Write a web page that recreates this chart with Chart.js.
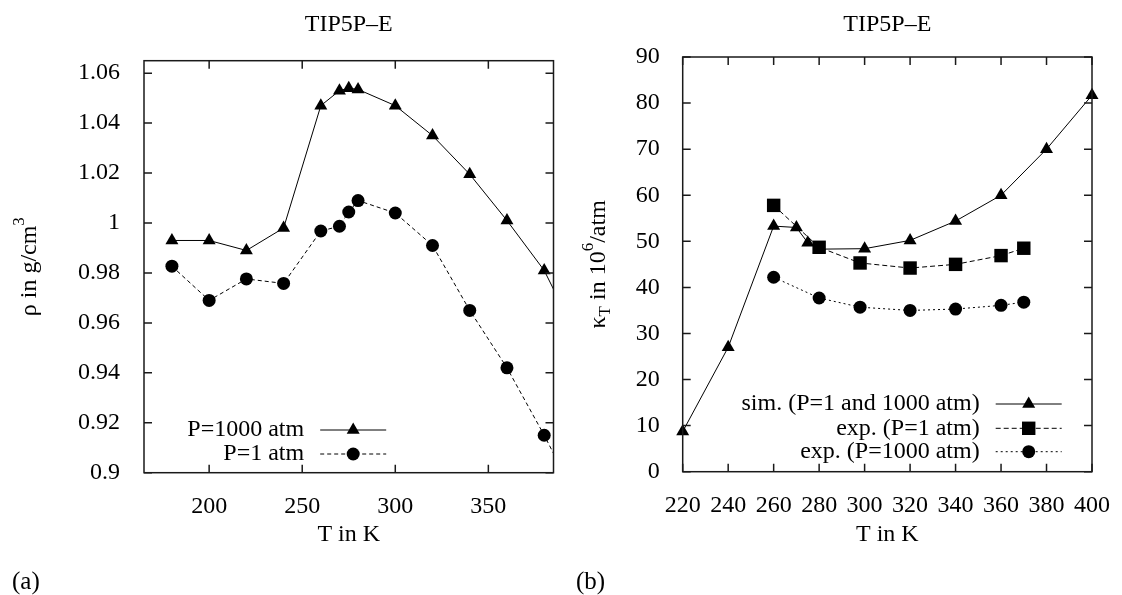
<!DOCTYPE html>
<html>
<head>
<meta charset="utf-8">
<script src="https://cdn.jsdelivr.net/npm/chart.js@4.4.0/dist/chart.umd.min.js"></script>
<style>
  html, body { margin: 0; padding: 0; background: #fff; }
  #wrap { position: relative; width: 1122px; height: 595px; overflow: hidden; }
  canvas { position: absolute; top: 0; }
  #c1 { left: 0; }
  #c2 { left: 561px; }
  .tag { position: absolute; top: 567px; font: 25px "Liberation Serif", serif; line-height: 28px; color: #000; }
</style>
</head>
<body>
<div id="wrap">
  <canvas id="c1" width="561" height="595"></canvas>
  <canvas id="c2" width="561" height="595"></canvas>
  <div class="tag" style="left:12px">(a)</div>
  <div class="tag" style="left:576px">(b)</div>
</div>
<script>
// (a) density
const rhoTemps = [180, 200, 220, 240, 260, 270, 275, 280, 300, 320, 340, 360, 380, 400];
const rhoP1000 = [0.993, 0.993, 0.989, 0.998, 1.047, 1.053, 1.054, 1.0535, 1.047, 1.035, 1.0195, 1.001, 0.981, 0.951];
const rhoP1 = [0.9827, 0.969, 0.9776, 0.9758, 0.9968, 0.9987, 1.0044, 1.009, 1.004, 0.991, 0.965, 0.942, 0.915, 0.886];

// (b) compressibility
const simTemps = [220, 240, 260, 270, 275, 280, 300, 320, 340, 360, 380, 400];
const simKappa = [8.7, 27.0, 53.3, 53.0, 49.7, 48.3, 48.4, 50.2, 54.4, 60.0, 70.0, 81.7];
const expTemps = [260, 280, 298, 320, 340, 360, 370];
const expKappaP1 = [57.8, 48.7, 45.3, 44.2, 45.0, 46.9, 48.5];
const expKappaP1000 = [42.2, 37.7, 35.7, 35.0, 35.3, 36.1, 36.8];

const FONT = '"Liberation Serif", "Times New Roman", serif';
Chart.defaults.font.family = FONT;
Chart.defaults.font.size = 24;
Chart.defaults.color = '#000';

const pts = (xs, ys) => xs.map((x, i) => ({x: x, y: ys[i]}));

// gnuplot style box with inward ticks on all four sides
const frame = {
  id: 'frame',
  afterDatasetsDraw(chart) {
    const {ctx, chartArea: a, scales: {x, y}} = chart;
    ctx.save();
    ctx.strokeStyle = '#1a1a1a';
    ctx.lineWidth = 1.5;
    ctx.setLineDash([]);
    ctx.strokeRect(a.left, a.top, a.right - a.left, a.bottom - a.top);
    ctx.beginPath();
    x.ticks.forEach(t => {
      const px = x.getPixelForValue(t.value);
      ctx.moveTo(px, a.bottom); ctx.lineTo(px, a.bottom - 8);
      ctx.moveTo(px, a.top); ctx.lineTo(px, a.top + 8);
    });
    y.ticks.forEach(t => {
      const py = y.getPixelForValue(t.value);
      ctx.moveTo(a.left, py); ctx.lineTo(a.left + 8, py);
      ctx.moveTo(a.right, py); ctx.lineTo(a.right - 8, py);
    });
    ctx.stroke();
    ctx.restore();
  }
};

// key in the gnuplot way: text, then line sample with the marker
function makeKey(rows, textRight) {
  return {
    id: 'key',
    afterDraw(chart) {
      const {ctx, chartArea: a} = chart;
      ctx.save();
      ctx.font = '24px ' + FONT;
      ctx.textAlign = 'right';
      ctx.textBaseline = 'middle';
      chart.data.datasets.forEach((ds, i) => {
        const y = a.bottom - rows[i];
        const tx = a.right - textRight;
        ctx.fillStyle = '#000';
        ctx.fillText(ds.label, tx, y);
        const x0 = tx + 16, x1 = x0 + 66;
        ctx.strokeStyle = '#000';
        ctx.lineWidth = 1;
        ctx.setLineDash(ds.borderDash || []);
        ctx.beginPath(); ctx.moveTo(x0, y); ctx.lineTo(x1, y); ctx.stroke();
        ctx.setLineDash([]);
        ctx.fillStyle = '#000';
        Chart.helpers.drawPoint(ctx, {pointStyle: ds.pointStyle, radius: ds.pointRadius, borderWidth: 0, rotation: 0}, (x0 + x1) / 2, y);
      });
      ctx.restore();
    }
  };
}

// rotated y label with super/subscripts
function makeYLabel(parts, cx) {
  return {
    id: 'ylabel',
    afterDraw(chart) {
      const {ctx, chartArea: a} = chart;
      const fontFor = p => (p.sup || p.sub ? 17 : 24) + 'px ' + FONT;
      ctx.save();
      ctx.translate(cx, (a.top + a.bottom) / 2);
      ctx.rotate(-Math.PI / 2);
      ctx.fillStyle = '#000';
      ctx.textBaseline = 'alphabetic';
      ctx.textAlign = 'left';
      let total = 0;
      const widths = parts.map(p => { ctx.font = fontFor(p); const w = ctx.measureText(p.t).width; total += w; return w; });
      let x = -total / 2;
      parts.forEach((p, i) => {
        ctx.font = fontFor(p);
        const dy = p.sup ? -12 : p.sub ? 5 : 0;
        ctx.fillText(p.t, x, 8 + dy);
        x += widths[i];
      });
      ctx.restore();
    }
  };
}

const trim = v => String(+v.toFixed(3));

function line(label, xs, ys, style, radius, dash, extra) {
  return Object.assign({
    label: label,
    data: pts(xs, ys),
    borderColor: '#000',
    backgroundColor: '#000',
    borderWidth: 1,
    borderDash: dash,
    tension: 0,
    pointStyle: style,
    pointRadius: radius,
    pointBorderWidth: 0,
    pointBackgroundColor: '#000'
  }, extra);
}

const titleOpts = bottom => ({
  display: true, text: 'TIP5P\u2013E', fullSize: false,
  font: {size: 24, weight: 'normal'}, padding: {top: 10.6, bottom: bottom}
});

new Chart(document.getElementById('c1'), {
  type: 'line',
  data: {
    datasets: [
      line('P=1000 atm', rhoTemps, rhoP1000, 'triangle', 7.5, [], {clip: 0}),
      line('P=1 atm', rhoTemps, rhoP1, 'circle', 6.5, [4, 3], {clip: 0})
    ]
  },
  options: {
    responsive: false,
    animation: false,
    layout: {padding: {left: 0, right: 6, top: 0, bottom: 0}},
    plugins: {
      legend: {display: false},
      tooltip: {enabled: false},
      title: titleOpts(21.3)
    },
    scales: {
      x: {
        type: 'linear', min: 165, max: 385,
        ticks: {stepSize: 50, includeBounds: false, padding: 12, maxRotation: 0, callback: trim},
        grid: {display: false}, border: {display: false},
        title: {display: true, text: 'T in K', padding: {top: 0, bottom: 45.6}},
        afterFit: s => { s.height = 122.3; }
      },
      y: {
        min: 0.9, max: 1.065,
        ticks: {stepSize: 0.02, includeBounds: false, padding: 16, callback: trim},
        grid: {display: false}, border: {display: false},
        afterFit: s => { s.width = 144; }
      }
    }
  },
  plugins: [frame, makeKey([42.7, 18.7], 249.3), makeYLabel([{t: '\u03c1 in g/cm'}, {t: '3', sup: true}], 28)]
});

new Chart(document.getElementById('c2'), {
  type: 'line',
  data: {
    datasets: [
      line('sim. (P=1 and 1000 atm)', simTemps, simKappa, 'triangle', 7.5, [], {clip: false}),
      line('exp. (P=1 atm)', expTemps, expKappaP1, 'rect', 9.5, [5, 3], {clip: false}),
      line('exp. (P=1000 atm)', expTemps, expKappaP1000, 'circle', 6.5, [2, 3], {clip: false})
    ]
  },
  options: {
    responsive: false,
    animation: false,
    layout: {padding: {left: 0, right: 23.7, top: 0, bottom: 0}},
    plugins: {
      legend: {display: false},
      tooltip: {enabled: false},
      title: titleOpts(17.6)
    },
    scales: {
      x: {
        type: 'linear', min: 220, max: 400,
        ticks: {stepSize: 20, includeBounds: false, padding: 12, maxRotation: 0, callback: trim},
        grid: {display: false}, border: {display: false},
        title: {display: true, text: 'T in K', padding: {top: 0, bottom: 45.6}},
        afterFit: s => { s.height = 123.3; }
      },
      y: {
        min: 0, max: 90,
        ticks: {stepSize: 10, includeBounds: false, padding: 15, callback: trim},
        grid: {display: false}, border: {display: false},
        afterFit: s => { s.width = 121.7; }
      }
    }
  },
  plugins: [frame, makeKey([67.7, 43.4, 20], 112.3),
    makeYLabel([{t: '\u03ba'}, {t: 'T', sub: true}, {t: ' in 10'}, {t: '6', sup: true}, {t: '/atm'}], 36)]
});
</script>
</body>
</html>
